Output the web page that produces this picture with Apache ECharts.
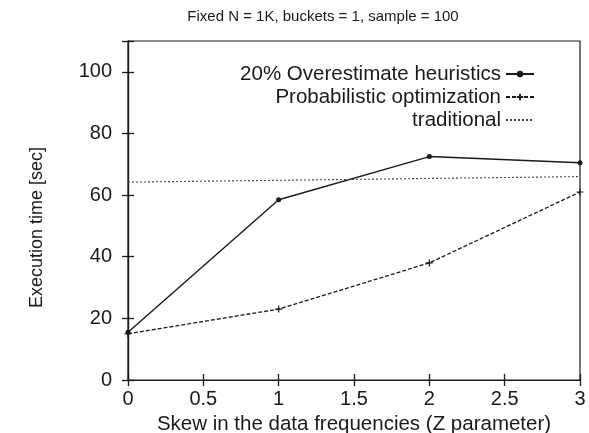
<!DOCTYPE html>
<html>
<head>
<meta charset="utf-8">
<script src="https://cdn.jsdelivr.net/npm/echarts@6/dist/echarts.min.js"></script>
<style>
  html, body { margin: 0; padding: 0; background: #fff; }
  #chart { width: 589px; height: 433px; }
</style>
</head>
<body>
<div id="chart"></div>
<script>
// skew values (Z parameter)
let skew = [0, 1, 2, 3];
let heuristics = [15.5, 58.5, 72.5, 70.5];
let probabilistic = [15, 23, 38, 61];
let traditional = [64.2, 64.8, 65.4, 66];
let seriesNames = ['20% Overestimate heuristics', 'Probabilistic optimization', 'traditional'];

function pairs(ys) {
    let out = [];
    for (let i = 0; i < skew.length; i++) {
        out.push([skew[i], ys[i]]);
    }
    return out;
}

let fontFam = '"Liberation Sans", Arial, Helvetica, sans-serif';
let ink = '#1a1a1a';
let plusPath = 'path://M5,0 L5,10 M0,5 L10,5';

// ticks pointing into the plot, gnuplot style
function inTick() {
    return { show: true, inside: false, length: -6, lineStyle: { color: ink, width: 1.3 } };
}

let myChart = echarts.init(document.getElementById('chart'));
myChart.setOption({
    animation: false,
    backgroundColor: '#fff',
    title: {
        text: 'Fixed N = 1K, buckets = 1, sample = 100',
        left: 318,
        textAlign: 'center',
        top: 4,
        textStyle: { fontFamily: fontFam, fontSize: 15, fontWeight: 'normal', color: ink }
    },
    legend: {
        data: [
            { name: seriesNames[0] },
            { name: seriesNames[1] },
            { name: seriesNames[2], itemStyle: { opacity: 0 } }
        ],
        orient: 'vertical',
        align: 'right',
        right: 49,
        top: 58,
        itemWidth: 28,
        itemHeight: 8,
        itemGap: 1,
        selectedMode: false,
        textStyle: { fontFamily: fontFam, fontSize: 20.5, lineHeight: 22, color: ink }
    },
    grid: {
        left: 128, right: 9, top: 41, bottom: 53,
        containLabel: false, outerBoundsMode: 'none',
        show: true, borderColor: ink, borderWidth: 1.2
    },
    xAxis: [
        {
            type: 'value',
            min: 0, max: 3, interval: 0.5,
            name: 'Skew in the data frequencies (Z parameter)',
            nameLocation: 'middle',
            nameGap: 27,
            nameTextStyle: { fontFamily: fontFam, fontSize: 20.5, color: ink },
            axisLine: { lineStyle: { color: ink, width: 1.2 } },
            axisTick: inTick(),
            axisLabel: { fontFamily: fontFam, fontSize: 20, color: ink, margin: 9 },
            splitLine: { show: false }
        },
        {
            type: 'value', position: 'top',
            min: 0, max: 3, interval: 0.5,
            axisLine: { show: true, lineStyle: { color: ink, width: 1.2 } },
            axisTick: inTick(),
            axisLabel: { show: false },
            splitLine: { show: false }
        }
    ],
    yAxis: [
        {
            type: 'value',
            min: 0, max: 110, interval: 20,
            name: 'Execution time [sec]',
            nameLocation: 'middle',
            nameGap: 82,
            nameRotate: 90,
            nameTextStyle: { fontFamily: fontFam, fontSize: 18, color: ink, padding: [0, 34, 0, 0] },
            axisLine: { show: true, lineStyle: { color: ink, width: 1.2 } },
            axisTick: inTick(),
            axisLabel: {
                fontFamily: fontFam, fontSize: 20, color: ink, margin: 16,
                formatter: function (v) { return v > 100 ? '' : v; }
            },
            splitLine: { show: false }
        },
        {
            type: 'value', position: 'right',
            min: 0, max: 110, interval: 20,
            axisLine: { show: true, lineStyle: { color: ink, width: 1.2 } },
            axisTick: inTick(),
            axisLabel: { show: false },
            splitLine: { show: false }
        }
    ],
    series: [
        {
            name: seriesNames[0],
            type: 'line',
            data: pairs(heuristics),
            symbol: 'circle',
            symbolSize: 5,
            itemStyle: { color: ink },
            lineStyle: { color: ink, width: 1.4, type: 'solid' }
        },
        {
            name: seriesNames[1],
            type: 'line',
            data: pairs(probabilistic),
            symbol: plusPath,
            symbolSize: 7,
            itemStyle: { color: 'none', borderColor: ink, borderWidth: 1.2 },
            lineStyle: { color: ink, width: 1.3, type: [4, 2] }
        },
        {
            name: seriesNames[2],
            type: 'line',
            data: pairs(traditional),
            symbol: 'none',
            itemStyle: { color: '#444' },
            lineStyle: { color: '#444', width: 1.1, type: [2, 2] }
        },
        {
            // empty series so the mirrored frame axes get drawn
            type: 'line',
            xAxisIndex: 1,
            yAxisIndex: 1,
            data: [],
            silent: true
        }
    ]
});
</script>
</body>
</html>
